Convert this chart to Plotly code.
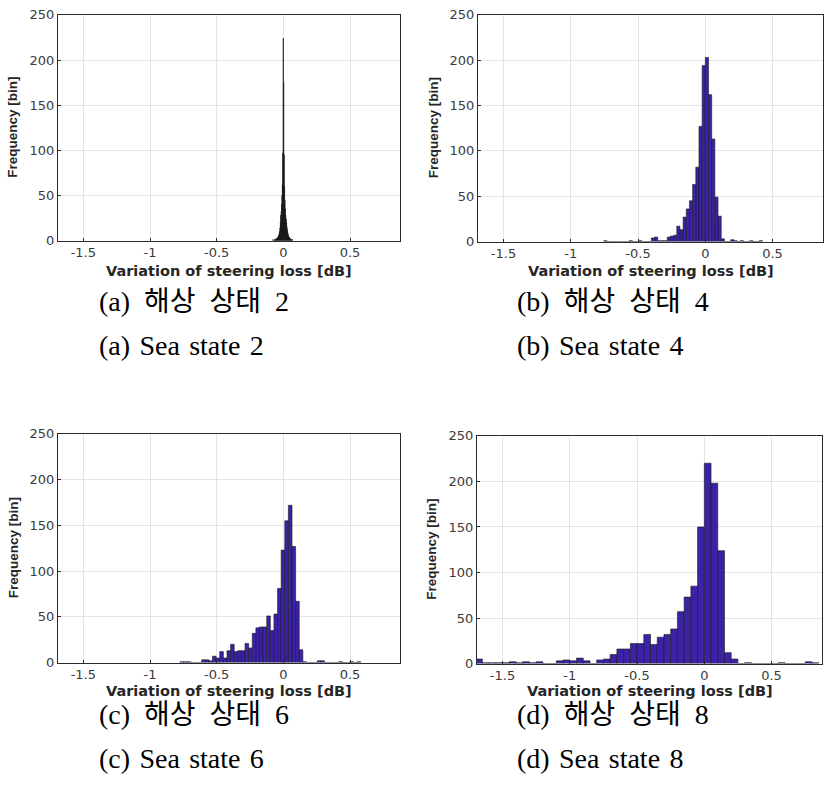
import plotly.graph_objects as go

# ---------------- data (histogram counts) ----------------
# (a) Sea state 2 : 50 bins
ss2_start, ss2_width = -0.080, 0.003
ss2_counts = [1, 0, 0, 1, 0, 1, 1, 1, 2, 2,
              2, 3, 3, 4, 5, 6, 8, 10, 14, 20,
              28, 32, 40, 50, 62, 97, 224, 175, 95, 60,
              45, 35, 28, 24, 20, 15, 12, 9, 7, 5,
              4, 3, 3, 2, 2, 1, 1, 0, 1, 1]

# (b) Sea state 4 : 50 bins
ss4_start, ss4_width = -0.755, 0.0236
ss4_counts = [1, 0, 0, 0, 0, 0, 0, 0, 1, 0,
              0, 1, 0, 0, 0, 4, 5, 1, 1, 1,
              5, 6, 7, 17, 13, 27, 36, 45, 63, 82,
              127, 194, 203, 162, 113, 49, 28, 3, 0, 0,
              2, 1, 0, 1, 0, 0, 1, 0, 0, 1]

# (c) Sea state 6 : 50 bins
ss6_start, ss6_width = -0.775, 0.0271
ss6_counts = [1, 1, 1, 0, 0, 0, 3, 3, 2, 7,
              5, 12, 5, 13, 20, 12, 13, 13, 21, 16,
              32, 38, 39, 39, 51, 35, 53, 81, 123, 155,
              172, 127, 67, 14, 1, 0, 0, 0, 2, 2,
              0, 0, 0, 0, 1, 0, 0, 1, 0, 1]

# (d) Sea state 8 : 51 bins
ss8_start, ss8_width = -1.70, 0.05
ss8_counts = [5, 1, 1, 1, 1, 2, 1, 2, 1, 2,
              0, 0, 3, 4, 3, 6, 3, 0, 4, 5,
              10, 16, 16, 22, 22, 32, 21, 29, 32, 38,
              57, 73, 85, 150, 220, 198, 124, 12, 5, 0,
              1, 0, 0, 0, 0, 1, 0, 0, 0, 2,
              1]

x_ticks = [-1.5, -1, -0.5, 0, 0.5]
x_tick_text = ["-1.5", "-1", "-0.5", "0", "0.5"]
y_ticks = [0, 50, 100, 150, 200, 250]
x_title = "Variation of steering loss [dB]"
y_title = "Frequency [bin]"
captions_ko = ["(a)\u2002해상\u2002상태\u20022", "(b)\u2002해상\u2002상태\u20024",
               "(c)\u2002해상\u2002상태\u20026", "(d)\u2002해상\u2002상태\u20028"]
captions_en = ["(a) \u200aSea \u200astate \u200a2", "(b) \u200aSea \u200astate \u200a4",
               "(c) \u200aSea \u200astate \u200a6", "(d) \u200aSea \u200astate \u200a8"]

panels = [
    (ss2_start, ss2_width, ss2_counts),
    (ss4_start, ss4_width, ss4_counts),
    (ss6_start, ss6_width, ss6_counts),
    (ss8_start, ss8_width, ss8_counts),
]

# ---------------- layout geometry (pixels) ----------------
W, H = 827, 808
boxes = [  # left, right, top, bottom
    (58, 400, 8, 238),
    (478, 823, 8, 239),
    (58, 400, 435, 668),
    (477, 822, 437, 669),
]
xtitle_y = [269, 269, 697, 697]
caption_pos = [  # x-left, y1, y2
    (97, 300, 345),
    (515, 300, 345),
    (97, 721, 766),
    (515, 721, 766),
]

fill_colors = ["#262626", "#3b22a6", "#3b22a6", "#3b22a6"]

fig = go.Figure()
layout = dict(
    width=W, height=H,
    margin=dict(l=0, r=0, t=0, b=0),
    paper_bgcolor="white", plot_bgcolor="white",
    showlegend=False, bargap=0,
    annotations=[],
)

axis_font = dict(family="DejaVu Sans, sans-serif", size=13, color="#3a3a3a")
xtitle_font = dict(family="DejaVu Sans, sans-serif", size=14.5, color="#262626")
ytitle_font = dict(family="Liberation Sans, Arial, sans-serif", size=13.5, color="#262626")
cap_font = dict(family="Liberation Serif, Times New Roman, Noto Sans CJK KR, serif",
                size=28, color="black")

for i, ((start, width, counts), (l, r, t, b)) in enumerate(zip(panels, boxes)):
    n = i + 1
    xa = "x" if n == 1 else f"x{n}"
    ya = "y" if n == 1 else f"y{n}"
    centers = [start + width * (k + 0.5) for k in range(len(counts))]
    fig.add_trace(go.Bar(
        x=centers, y=counts, width=width,
        marker=dict(color=fill_colors[i], line=dict(color="#1a1a1a", width=0.6)),
        xaxis=xa, yaxis=ya, hoverinfo="skip",
    ))
    xkey = "xaxis" if n == 1 else f"xaxis{n}"
    ykey = "yaxis" if n == 1 else f"yaxis{n}"
    layout[xkey] = dict(
        domain=[l / W, r / W], anchor=ya, range=[-1.69, 0.875],
        tickvals=x_ticks, ticktext=x_tick_text,
        showgrid=True, gridcolor="#e4e4e4", gridwidth=1, zeroline=False,
        showline=True, mirror=True, linecolor="#2b2b2b", linewidth=1,
        ticks="inside", ticklen=3, tickcolor="#2b2b2b",
        tickfont=axis_font, fixedrange=True,
    )
    layout[ykey] = dict(
        domain=[1 - b / H, 1 - t / H], anchor=xa, range=[0, 250],
        tickvals=y_ticks,
        showgrid=True, gridcolor="#e4e4e4", gridwidth=1, zeroline=False,
        showline=True, mirror=True, linecolor="#2b2b2b", linewidth=1,
        ticks="inside", ticklen=3, tickcolor="#2b2b2b",
        tickfont=axis_font, fixedrange=True,
    )
    # axis titles
    layout["annotations"].append(dict(
        text=f"<b>{x_title}</b>", xref="paper", yref="paper",
        x=(l + r) / 2 / W, y=1 - xtitle_y[i] / H, xanchor="center", yanchor="middle",
        showarrow=False, font=xtitle_font,
    ))
    layout["annotations"].append(dict(
        text=f"<b>{y_title}</b>", xref="paper", yref="paper",
        x=(l - 45) / W, y=1 - (t + b) / 2 / H, xanchor="center", yanchor="middle",
        textangle=-90, showarrow=False, font=ytitle_font,
    ))
    # captions
    cx, cy1, cy2 = caption_pos[i]
    layout["annotations"].append(dict(
        text=captions_ko[i], xref="paper", yref="paper",
        x=cx / W, y=1 - cy1 / H, xanchor="left", yanchor="middle",
        showarrow=False, font=cap_font,
    ))
    layout["annotations"].append(dict(
        text=captions_en[i], xref="paper", yref="paper",
        x=cx / W, y=1 - cy2 / H, xanchor="left", yanchor="middle",
        showarrow=False, font=cap_font,
    ))

fig.update_layout(**layout)
fig.write_html(
    "out.html",
    config={"displayModeBar": False, "staticPlot": True},
    post_script="document.body.style.margin='0';document.body.style.overflow='hidden';",
)
